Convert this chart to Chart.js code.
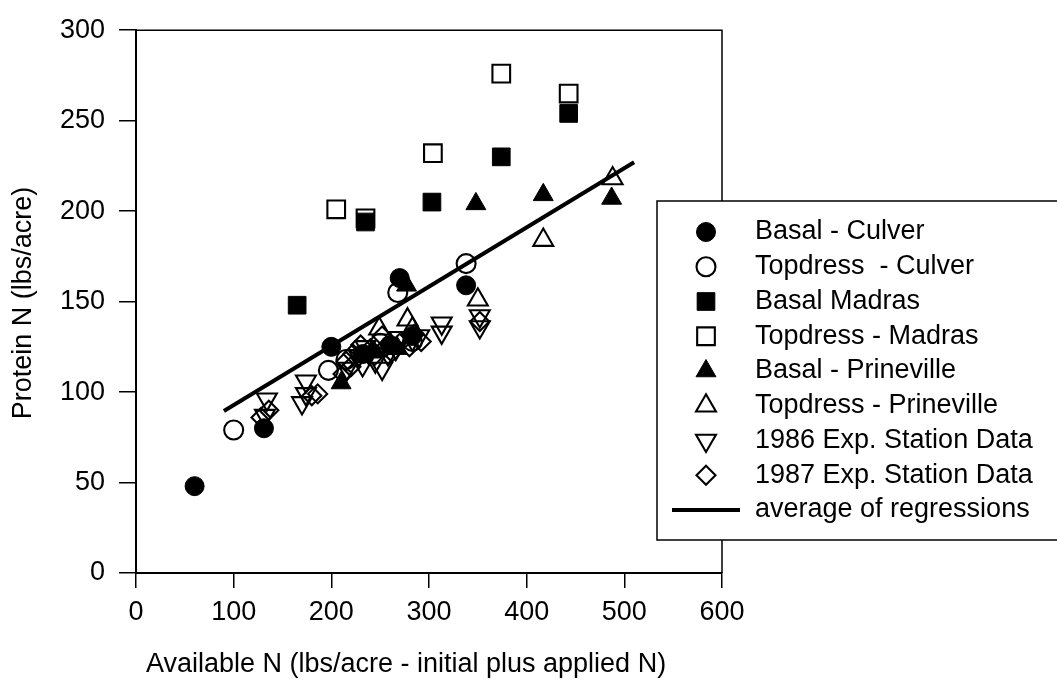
<!DOCTYPE html>
<html><head><meta charset="utf-8">
<script src="https://cdn.jsdelivr.net/npm/chart.js@4.4.0/dist/chart.umd.min.js"></script>
<style>html,body{margin:0;padding:0;background:#fff;}canvas{display:block;}</style>
</head><body>
<canvas id="c" width="1057" height="683"></canvas>
<script>
// ---- data ----
const xTickValues = [0, 100, 200, 300, 400, 500, 600];
const yTickValues = [0, 50, 100, 150, 200, 250, 300];
const basalCulver = [[60,48],[131,80],[200,125],[270,163],[338,159],[232,121],[260,126],[283,131]];
const topdressCulver = [[100,79],[197,112],[268,155],[338,171],[215,118],[250,127],[283,128]];
const basalMadras = [[165,148],[235,194],[303,205],[374,230],[443,254]];
const topdressMadras = [[205,201],[235,196],[304,232],[374,276],[443,265]];
const basalPrineville = [[210,105],[277,159],[348,204],[417,209],[487,207],[242,122],[268,124]];
const topdressPrineville = [[249,135],[278,140],[350,151],[417,184],[488,218],[283,135]];
const exp1986 = [[134,96],[132,87],[174,106],[174,99],[170,94],[216,113],[228,120],[245,117],[252,113],[266,124],[283,129],[313,138],[313,133],[352,142],[352,136],[235,125],[232,115],[258,121],[270,130],[290,131],[238,122]];
const exp1987 = [[128,86],[136,90],[180,98],[186,99],[215,117],[222,121],[240,124],[252,131],[270,127],[285,132],[352,139],[262,122],[230,126],[244,120],[256,125],[280,125],[292,128],[212,110],[220,114]];
const regressionLine = [[90,89.5],[510,227]];
const seriesNames = ['Basal - Culver','Topdress  - Culver','Basal Madras','Topdress - Madras','Basal - Prineville','Topdress - Prineville','1986 Exp. Station Data','1987 Exp. Station Data','average of regressions'];
const xTitle = 'Available N (lbs/acre - initial plus applied N)';
const yTitle = 'Protein N (lbs/acre)';

const FONT = "'Liberation Sans', Arial, sans-serif";
const FS = 27;
const toXY = a => a.map(p => ({x: p[0], y: p[1]}));
const NONE = 'rgba(0,0,0,0)';

function ds(label, data, style, filled, radius, rotation) {
  return {
    label, data: toXY(data), pointStyle: style, rotation: rotation || 0,
    pointRadius: radius, pointHoverRadius: radius,
    backgroundColor: filled ? '#000' : NONE, borderColor: '#000',
    pointBackgroundColor: filled ? '#000' : NONE, pointBorderColor: '#000',
    pointBorderWidth: filled ? 1 : 2.1, showLine: false
  };
}

const datasets = [
  ds(seriesNames[0], basalCulver, 'circle', true, 9.5),
  ds(seriesNames[1], topdressCulver, 'circle', false, 9.5),
  ds(seriesNames[2], basalMadras, 'rect', true, 12.5),
  ds(seriesNames[3], topdressMadras, 'rect', false, 12.5),
  ds(seriesNames[4], basalPrineville, 'triangle', true, 11.5),
  ds(seriesNames[5], topdressPrineville, 'triangle', false, 11.5),
  ds(seriesNames[6], exp1986, 'triangle', false, 11.5, 180),
  ds(seriesNames[7], exp1987, 'rectRot', false, 9.5),
  {label: seriesNames[8], data: toXY(regressionLine), showLine: true, pointRadius: 0,
   borderColor: '#000', borderWidth: 4, backgroundColor: '#000', fill: false}
];

const framePlugin = {
  id: 'frame',
  beforeDatasetsDraw(chart) {
    const {ctx, chartArea: a} = chart;
    ctx.save();
    ctx.strokeStyle = '#000'; ctx.lineWidth = 1.5;
    ctx.beginPath();
    ctx.moveTo(a.left, a.top); ctx.lineTo(a.right, a.top); ctx.lineTo(a.right, a.bottom);
    ctx.stroke();
    ctx.restore();
  },
  afterDraw(chart) {
    const {ctx} = chart;
    ctx.save();
    ctx.fillStyle = '#000';
    ctx.font = FS + 'px ' + FONT;
    ctx.textAlign = 'center'; ctx.textBaseline = 'middle';
    ctx.fillText(xTitle, 406, 665);
    ctx.save();
    ctx.translate(24, 303); ctx.rotate(-Math.PI/2);
    ctx.fillText(yTitle, 0, 0);
    ctx.restore();
    // legend box
    const bx = 657, by = 201, bw = 420, bh = 339;
    ctx.fillStyle = '#fff';
    ctx.fillRect(bx, by, bw, bh);
    ctx.strokeStyle = '#000'; ctx.lineWidth = 1.5;
    ctx.strokeRect(bx, by, bw, bh);
    const rowY0 = 232, rowH = 34.75, mx = 706, tx = 755;
    chart.data.datasets.forEach((d, i) => {
      const y = rowY0 + i * rowH;
      ctx.save();
      if (d.showLine) {
        ctx.strokeStyle = '#000'; ctx.lineWidth = 4;
        ctx.beginPath(); ctx.moveTo(672, y); ctx.lineTo(740, y); ctx.stroke();
      } else {
        ctx.fillStyle = d.pointBackgroundColor; ctx.strokeStyle = '#000';
        ctx.lineWidth = d.pointBorderWidth;
        Chart.helpers.drawPoint(ctx, {pointStyle: d.pointStyle, rotation: d.rotation, radius: d.pointRadius * 1.0, borderWidth: d.pointBorderWidth}, mx, y);
      }
      ctx.restore();
      ctx.fillStyle = '#000';
      ctx.font = FS + 'px ' + FONT;
      ctx.textAlign = 'left'; ctx.textBaseline = 'middle';
      ctx.fillText(d.label, tx, y);
    });
    ctx.restore();
  }
};

new Chart(document.getElementById('c'), {
  type: 'scatter',
  data: {datasets},
  options: {
    responsive: false, animation: false, devicePixelRatio: 1,
    layout: {padding: {top: 20, right: 335, left: 0, bottom: 0}},
    plugins: {legend: {display: false}, tooltip: {enabled: false}},
    elements: {point: {hitRadius: 0}},
    scales: {
      x: {
        type: 'linear', min: 0, max: 600,
        afterBuildTicks: s => { s.ticks = xTickValues.map(v => ({value: v})); },
        afterFit: s => { s.height = 110; },
        ticks: {color: '#000', font: {family: FONT, size: FS}, padding: 8, maxRotation: 0},
        grid: {drawOnChartArea: false, drawTicks: true, tickLength: 15, color: '#000', lineWidth: 1.5},
        border: {display: true, color: '#000', width: 2},
        title: {display: false}
      },
      y: {
        type: 'linear', min: 0, max: 300,
        afterBuildTicks: s => { s.ticks = yTickValues.map(v => ({value: v})); },
        afterFit: s => { s.width = 136; },
        ticks: {color: '#000', font: {family: FONT, size: FS}, padding: 14},
        grid: {drawOnChartArea: false, drawTicks: true, tickLength: 17, color: '#000', lineWidth: 1.5},
        border: {display: true, color: '#000', width: 2},
        title: {display: false}
      }
    }
  },
  plugins: [framePlugin]
});
</script>
</body></html>
